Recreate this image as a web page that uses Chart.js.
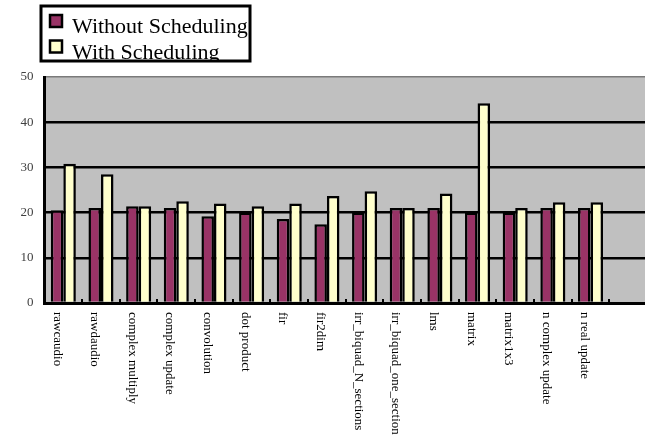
<!DOCTYPE html>
<html>
<head>
<meta charset="utf-8">
<script src="https://cdn.jsdelivr.net/npm/chart.js@4"></script>
<style>
  html, body { margin: 0; padding: 0; background: #fff; overflow: hidden; }
  #wrap { width: 647px; height: 439px; position: relative; }
</style>
</head>
<body>
<div id="wrap"><canvas id="c"></canvas></div>
<script>
// Benchmark kernels
const categories = [
  'rawcaudio', 'rawdaudio', 'complex multiply', 'complex update', 'convolution',
  'dot product', 'fir', 'fir2dim', 'irr_biquad_N_sections', 'irr_biquad_one_section',
  'lms', 'matrix', 'matrix1x3', 'n complex update', 'n real update'
];
const withoutScheduling = [20.5, 21.0, 21.4, 21.0, 19.2, 20.0, 18.6, 17.4, 20.0, 21.0, 21.0, 20.0, 20.0, 21.0, 21.0];
const withScheduling    = [30.8, 28.5, 21.4, 22.5, 22.0, 21.4, 22.0, 23.7, 24.7, 21.0, 24.2, 44.2, 21.0, 22.3, 22.3];
const seriesNames = ['Without Scheduling', 'With Scheduling'];
const yTicks = [0, 10, 20, 30, 40, 50];

// one spare empty slot at the end of the axis
const axisLabels = categories.concat(['']);

const SERIF = '"Liberation Serif", "DejaVu Serif", serif';

const decor = {
  id: 'decor',
  beforeDraw(chart) {
    const { ctx, chartArea: a } = chart;
    ctx.save();
    ctx.fillStyle = '#C0C0C0';
    ctx.fillRect(a.left, a.top, a.right - a.left, a.bottom - a.top);
    ctx.restore();
  },
  afterDraw(chart) {
    const { ctx, chartArea: a } = chart;
    const xs = chart.scales.x;
    ctx.save();
    // small inner tick marks between categories
    ctx.strokeStyle = '#000';
    ctx.lineWidth = 2;
    for (let i = 1; i < axisLabels.length; i++) {
      const x = Math.round((xs.getPixelForValue(i - 1) + xs.getPixelForValue(i)) / 2);
      ctx.beginPath();
      ctx.moveTo(x, a.bottom);
      ctx.lineTo(x, a.bottom - 4);
      ctx.stroke();
    }
    // category labels, reading downward
    const step = xs.getPixelForValue(1) - xs.getPixelForValue(0);
    ctx.fillStyle = '#000';
    ctx.font = '13px ' + SERIF;
    ctx.textAlign = 'left';
    ctx.textBaseline = 'middle';
    categories.forEach((lab, i) => {
      const x = xs.getPixelForValue(i) - step * 0.17;
      ctx.save();
      ctx.translate(x, a.bottom + 9);
      ctx.rotate(Math.PI / 2);
      ctx.fillText(lab, 0, 0);
      ctx.restore();
    });
    // legend box
    const bx = 41, by = 6, bw = 209, bh = 55;
    ctx.save();
    ctx.beginPath();
    ctx.rect(bx, by, bw, bh);
    ctx.clip();
    ctx.fillStyle = '#fff';
    ctx.fillRect(bx, by, bw, bh);
    ctx.font = '22px ' + SERIF;
    ctx.textBaseline = 'alphabetic';
    chart.data.datasets.forEach((ds, i) => {
      const yTop = 15 + i * 25.5;
      ctx.fillStyle = ds.backgroundColor;
      ctx.fillRect(50, yTop, 12, 12);
      ctx.strokeStyle = '#000';
      ctx.lineWidth = 2.5;
      ctx.strokeRect(50, yTop, 12, 12);
      ctx.fillStyle = '#000';
      ctx.fillText(ds.label, 72, yTop + 18);
    });
    ctx.restore();
    ctx.strokeStyle = '#000';
    ctx.lineWidth = 3;
    ctx.strokeRect(bx, by, bw, bh);
    ctx.restore();
  }
};

const pad = arr => arr.concat([null]);

new Chart(document.getElementById('c'), {
  type: 'bar',
  data: {
    labels: axisLabels,
    datasets: [
      { label: seriesNames[0], data: pad(withoutScheduling), backgroundColor: '#993366',
        borderColor: '#000', borderWidth: 2.5, borderSkipped: 'bottom' },
      { label: seriesNames[1], data: pad(withScheduling), backgroundColor: '#FFFFCC',
        borderColor: '#000', borderWidth: 2.5, borderSkipped: 'bottom' }
    ]
  },
  options: {
    responsive: true,
    maintainAspectRatio: false,
    animation: false,
    devicePixelRatio: 1,
    layout: { padding: { top: 77, right: 0, bottom: 0, left: 0 } },
    datasets: { bar: { categoryPercentage: 0.665, barPercentage: 1.0 } },
    plugins: { legend: { display: false }, tooltip: { enabled: false } },
    scales: {
      x: {
        afterFit: s => { s.height = 136; },
        grid: { display: false, drawTicks: false },
        border: { display: true, color: '#000', width: 3 },
        ticks: { display: false }
      },
      y: {
        min: 0, max: 50,
        afterFit: s => { s.width = 44.5; },
        afterBuildTicks: s => { s.ticks = yTicks.map(v => ({ value: v })); },
        grid: {
          drawTicks: false,
          color: c => (c.tick && c.tick.value === 50) ? '#7a7a7a' : '#000',
          lineWidth: c => (c.tick && c.tick.value === 50) ? 1.5 : 2.5
        },
        border: { display: true, color: '#000', width: 3 },
        ticks: { padding: 11, color: '#404040', font: { family: SERIF, size: 13 } }
      }
    }
  },
  plugins: [decor]
});
</script>
</body>
</html>
